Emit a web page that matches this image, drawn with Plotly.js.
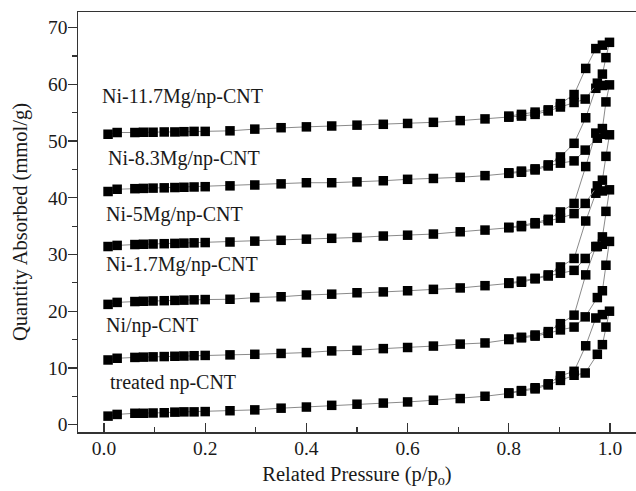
<!DOCTYPE html>
<html>
<head>
<meta charset="utf-8">
<script src="https://cdn.plot.ly/plotly-3.0.1.min.js"></script>
<style>html,body{margin:0;padding:0;background:#fff;}#chart{width:636px;height:491px;}</style>
</head>
<body>
<div id="chart"></div>
<script>
// Relative pressure points (adsorption branch, then desorption branch)
var pAds = [0.008,0.026,0.061,0.078,0.097,0.119,0.140,0.158,0.178,0.200,0.249,0.298,0.350,0.400,0.450,0.500,0.552,0.600,0.651,0.704,0.753,0.800,0.825,0.852,0.878,0.902,0.929,0.951,0.975,0.985,0.992,0.999];
var pDes = [0.985,0.972,0.952,0.929,0.902,0.878,0.852,0.825,0.800];

var seriesNames = ["treated np-CNT","Ni/np-CNT","Ni-1.7Mg/np-CNT","Ni-5Mg/np-CNT","Ni-8.3Mg/np-CNT","Ni-11.7Mg/np-CNT"];

var treatedAds = [1.5,1.8,2.0,2.0,2.05,2.1,2.2,2.25,2.25,2.3,2.45,2.6,2.9,3.1,3.4,3.6,3.8,4.0,4.3,4.6,5.0,5.5,5.9,6.3,7.0,7.8,8.7,9.1,12.4,14.1,17.2,20.0];
var treatedDes = [19.4,18.8,13.9,9.4,8.6,7.2,6.5,6.0,5.6];

var niAds = [11.4,11.7,11.85,11.9,11.95,12.0,12.05,12.1,12.15,12.2,12.3,12.4,12.55,12.7,13.0,13.1,13.4,13.6,13.85,14.2,14.4,15.0,15.3,15.6,16.1,16.7,17.2,19.0,22.4,23.6,28.1,32.3];
var niDes = [31.8,31.4,26.4,19.3,17.8,16.4,15.8,15.4,15.1];

var mg17Ads = [21.2,21.55,21.7,21.75,21.8,21.85,21.9,21.95,22.0,22.05,22.1,22.4,22.55,22.85,23.0,23.25,23.4,23.6,23.85,24.1,24.5,24.9,25.1,25.7,26.2,26.7,27.2,29.3,31.4,33.1,37.6,41.4];
var mg17Des = [41.2,40.8,35.9,29.3,27.8,26.4,25.8,25.3,25.0];

var mg5Ads = [31.4,31.6,31.75,31.8,31.85,31.9,31.95,32.0,32.05,32.1,32.2,32.35,32.5,32.7,32.85,33.0,33.25,33.4,33.6,34.0,34.3,34.7,34.9,35.4,35.95,36.4,37.2,39.0,42.1,43.1,47.3,51.1];
var mg5Des = [51.2,51.4,45.5,39.0,37.5,36.2,35.6,35.1,34.8];

var mg83Ads = [41.1,41.5,41.6,41.65,41.7,41.75,41.8,41.85,41.9,41.95,42.1,42.25,42.45,42.65,42.65,42.8,43.0,43.25,43.4,43.6,43.9,44.3,44.5,44.9,45.6,46.1,46.5,48.4,50.5,52.2,56.9,59.9];
var mg83Des = [59.8,59.3,54.1,49.6,47.2,45.8,45.1,44.7,44.4];

var mg117Ads = [51.2,51.5,51.5,51.55,51.55,51.6,51.6,51.65,51.7,51.7,51.8,52.1,52.35,52.5,52.65,52.8,52.95,53.1,53.3,53.6,53.9,54.2,54.4,54.7,55.3,56.0,56.8,57.4,60.2,61.8,64.7,67.4];
var mg117Des = [66.9,66.3,62.8,58.2,56.6,55.5,55.1,54.7,54.4];

var adsList = [treatedAds, niAds, mg17Ads, mg5Ads, mg83Ads, mg117Ads];
var desList = [treatedDes, niDes, mg17Des, mg5Des, mg83Des, mg117Des];

// label positions (data coords)
var labelX = [0.008,0.0,0.0,0.0,0.004,-0.007];
var labelY = [7.4,17.5,28.2,37.0,46.9,57.8];

var FONT = "Liberation Serif, Times New Roman, serif";
var TXT = "#1a1a1a";
var traces = [];
for (var i = 0; i < adsList.length; i++) {
  traces.push({
    type: "scatter",
    mode: "lines+markers",
    name: seriesNames[i],
    x: pAds.concat(pDes),
    y: adsList[i].concat(desList[i]),
    line: {color: "#8a8a8a", width: 1},
    marker: {symbol: "square", size: 9.5, color: "#000"},
    showlegend: false,
    cliponaxis: false
  });
}

var annotations = seriesNames.map(function (n, i) {
  return {
    x: labelX[i], y: labelY[i], xref: "x", yref: "y",
    text: n, showarrow: false, xanchor: "left", yanchor: "middle",
    font: {family: FONT, size: 20, color: TXT}
  };
});

var layout = {
  width: 636, height: 491,
  margin: {l: 78, r: 0, t: 12, b: 59},
  paper_bgcolor: "#fff", plot_bgcolor: "#fff",
  font: {family: FONT, size: 19, color: TXT},
  showlegend: false,
  xaxis: {
    range: [-0.0514, 1.0514],
    showgrid: false, zeroline: false,
    showline: true, linecolor: "#333", linewidth: 1.5, mirror: true,
    ticks: "inside", ticklen: 9, tickwidth: 1.2, tickcolor: "#333",
    tickvals: [0, 0.2, 0.4, 0.6, 0.8, 1.0], tickformat: ".1f",
    minor: {dtick: 0.1, tick0: 0, ticks: "inside", ticklen: 5, tickcolor: "#333", tickwidth: 1.2, showgrid: false},
    tickfont: {family: FONT, size: 19.5, color: TXT},
    ticklabelstandoff: -2,
    title: {text: "Related Pressure (p/p<sub>o</sub>)", font: {family: FONT, size: 20.5, color: TXT}, standoff: 8}
  },
  yaxis: {
    range: [-1.3, 72.75],
    showgrid: false, zeroline: false,
    showline: true, linecolor: "#333", linewidth: 1.5, mirror: false,
    ticks: "outside", ticklen: 9, tickwidth: 1.2, tickcolor: "#333",
    tickvals: [0, 10, 20, 30, 40, 50, 60, 70],
    minor: {dtick: 5, tick0: 0, ticks: "outside", ticklen: 5, tickcolor: "#333", tickwidth: 1.2, showgrid: false},
    tickfont: {family: FONT, size: 19.5, color: TXT},
    ticklabelstandoff: -4,
    title: {text: "Quantity Absorbed (mmol/g)", font: {family: FONT, size: 20.5, color: TXT}, standoff: 15}
  },
  annotations: annotations
};

Plotly.newPlot("chart", traces, layout, {staticPlot: true, displayModeBar: false});
</script>
</body>
</html>
